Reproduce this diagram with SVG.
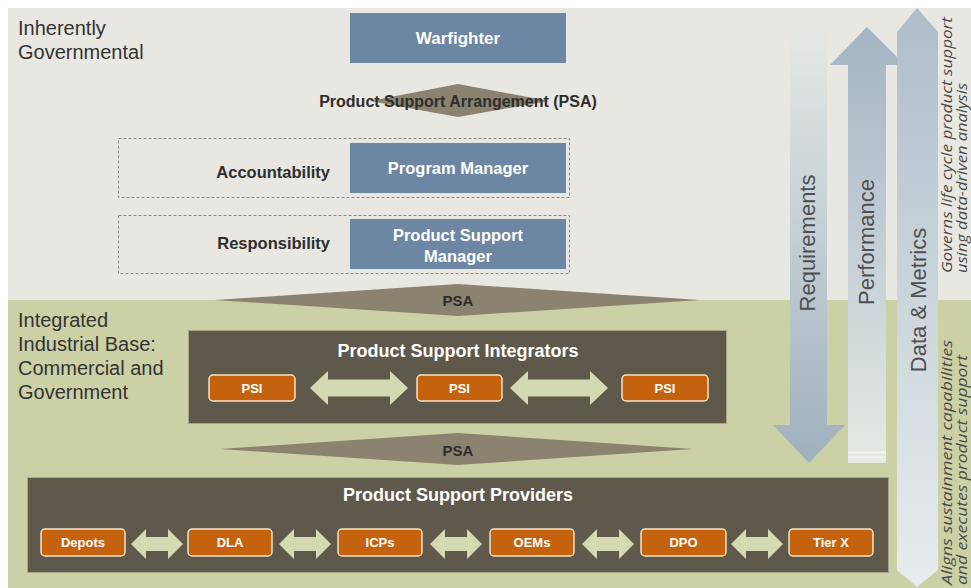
<svg xmlns="http://www.w3.org/2000/svg" width="971" height="588" viewBox="0 0 971 588">
<defs>
<style>
.lbl{font-family:"Liberation Sans",Arial,sans-serif;fill:#333;font-size:20px}
.bl{font-family:"Liberation Sans",Arial,sans-serif;font-weight:bold}
.wt{fill:#fff}
.dk{fill:#2e2e2e}
.blue{fill:#6c86a3}
.dash{fill:none;stroke:#8a8a8a;stroke-width:1;stroke-dasharray:3 2}
.cont{fill:#5f594c;stroke:#a9a58f;stroke-width:1}
.org{fill:#c5620d;stroke:#f4e3c4;stroke-width:1.5}
.dbl{fill:#d3d9b1}
.psa{fill:#8b8370}
.vt{font-family:"Liberation Sans",Arial,sans-serif;font-size:22px;fill:#4f4f4f}
.it{font-family:"Open Sans","Liberation Sans",sans-serif;font-style:italic;font-size:15px;fill:#4a4a4a}
</style>
<linearGradient id="gReq" gradientUnits="userSpaceOnUse" x1="0" y1="28" x2="0" y2="463">
<stop offset="0" stop-color="#e6e8e4"/>
<stop offset="0.45" stop-color="#c5d0d6"/>
<stop offset="1" stop-color="#9fb0bd"/>
</linearGradient>
<linearGradient id="gPerf" gradientUnits="userSpaceOnUse" x1="0" y1="27" x2="0" y2="463">
<stop offset="0" stop-color="#a3b4c2"/>
<stop offset="0.5" stop-color="#c3ced6"/>
<stop offset="1" stop-color="#e6eae4"/>
</linearGradient>
<linearGradient id="gData" gradientUnits="userSpaceOnUse" x1="0" y1="8" x2="0" y2="587">
<stop offset="0" stop-color="#aebdca"/>
<stop offset="0.5" stop-color="#ccd5dc"/>
<stop offset="1" stop-color="#e8ecee"/>
</linearGradient>
<path id="arrPsi" d="M-49,0 L-31,-17 L-31,-8.5 L31,-8.5 L31,-17 L49,0 L31,17 L31,8.5 L-31,8.5 L-31,17 Z"/>
<path id="arrPro" d="M-26,0 L-11,-15 L-11,-7 L11,-7 L11,-15 L26,0 L11,15 L11,7 L-11,7 L-11,15 Z"/>
</defs>

<!-- backgrounds -->
<rect x="8" y="8" width="963" height="292" fill="#e8e7e2"/>
<rect x="8" y="300" width="963" height="288" fill="#cbd1a5"/>

<!-- region labels -->
<text class="lbl" x="18" y="35">Inherently</text>
<text class="lbl" x="18" y="59">Governmental</text>
<text class="lbl" x="18" y="327">Integrated</text>
<text class="lbl" x="18" y="351">Industrial Base:</text>
<text class="lbl" x="18" y="375">Commercial and</text>
<text class="lbl" x="18" y="399">Government</text>

<!-- government nodes -->
<g id="warfighter">
<rect class="blue" x="350" y="13" width="216" height="50"/>
<text class="bl wt" x="458" y="44" font-size="17" text-anchor="middle">Warfighter</text>
</g>
<g id="accountability">
<rect class="dash" x="118.5" y="138.5" width="451" height="59"/>
<text class="bl dk" x="330" y="178" font-size="16.5" text-anchor="end">Accountability</text>
</g>
<g id="program-manager">
<rect class="blue" x="350" y="143" width="216" height="50"/>
<text class="bl wt" x="458" y="174" font-size="16.5" text-anchor="middle">Program Manager</text>
</g>
<g id="responsibility">
<rect class="dash" x="118.5" y="215.5" width="451" height="58"/>
<text class="bl dk" x="330" y="249" font-size="16.5" text-anchor="end">Responsibility</text>
</g>
<g id="product-support-manager">
<rect class="blue" x="350" y="219" width="216" height="50"/>
<text class="bl wt" x="458" y="241" font-size="16.5" text-anchor="middle">Product Support</text>
<text class="bl wt" x="458" y="262" font-size="16.5" text-anchor="middle">Manager</text>
</g>

<!-- integrators -->
<g id="product-support-integrators">
<rect class="cont" x="188.5" y="330.5" width="538" height="93"/>
<text class="bl wt" x="458" y="357" font-size="18" text-anchor="middle">Product Support Integrators</text>
</g>
<g id="psi-1">
<rect class="org" x="209" y="375" width="86" height="26" rx="4"/>
<text class="bl wt" x="252" y="393" font-size="13" text-anchor="middle">PSI</text>
</g>
<g id="psi-2">
<rect class="org" x="417" y="375" width="85" height="26" rx="4"/>
<text class="bl wt" x="459.5" y="393" font-size="13" text-anchor="middle">PSI</text>
</g>
<g id="psi-3">
<rect class="org" x="622" y="375" width="86" height="26" rx="4"/>
<text class="bl wt" x="665" y="393" font-size="13" text-anchor="middle">PSI</text>
</g>

<!-- providers -->
<g id="product-support-providers">
<rect class="cont" x="27.5" y="477.5" width="861" height="95"/>
<text class="bl wt" x="458" y="501" font-size="18" text-anchor="middle">Product Support Providers</text>
</g>
<g id="depots">
<rect class="org" x="41" y="529" width="84" height="27" rx="4"/>
<text class="bl wt" x="83" y="547" font-size="13" text-anchor="middle">Depots</text>
</g>
<g id="dla">
<rect class="org" x="188" y="529" width="84" height="27" rx="4"/>
<text class="bl wt" x="230" y="547" font-size="13" text-anchor="middle">DLA</text>
</g>
<g id="icps">
<rect class="org" x="338" y="529" width="84" height="27" rx="4"/>
<text class="bl wt" x="380" y="547" font-size="13" text-anchor="middle">ICPs</text>
</g>
<g id="oems">
<rect class="org" x="490" y="529" width="84" height="27" rx="4"/>
<text class="bl wt" x="532" y="547" font-size="13" text-anchor="middle">OEMs</text>
</g>
<g id="dpo">
<rect class="org" x="641" y="529" width="85" height="27" rx="4"/>
<text class="bl wt" x="683.5" y="547" font-size="13" text-anchor="middle">DPO</text>
</g>
<g id="tier-x">
<rect class="org" x="789" y="529" width="84" height="27" rx="4"/>
<text class="bl wt" x="831" y="547" font-size="13" text-anchor="middle">Tier X</text>
</g>

<!-- connectors: PSA arrangements and flow arrows -->
<g id="connectors">
<polygon class="psa" points="370,101 458,84 549,101 458,117"/>
<polygon class="psa" points="215,300 458,284 700,300 458,316"/>
<polygon class="psa" points="220,449 458,433 693,449 458,465"/>
<use href="#arrPsi" x="359" y="388" class="dbl"/>
<use href="#arrPsi" x="559" y="388" class="dbl"/>
<use href="#arrPro" x="157" y="544" class="dbl"/>
<use href="#arrPro" x="305" y="544" class="dbl"/>
<use href="#arrPro" x="456" y="544" class="dbl"/>
<use href="#arrPro" x="608" y="544" class="dbl"/>
<use href="#arrPro" x="757" y="544" class="dbl"/>
<g id="requirements">
<path d="M790,28 H827 V425 H845 L809,463 L773,425 H790 Z" fill="url(#gReq)"/>
</g>
<g id="performance">
<path d="M867,27 L905,65 H886 V463 H848 V65 H830 Z" fill="url(#gPerf)"/>
<rect x="848" y="451.5" width="38" height="1.5" fill="#f3f4ee"/>
<rect x="848" y="456.5" width="38" height="1.5" fill="#f3f4ee"/>
</g>
<g id="data-metrics">
<path d="M917,8 L938,32 V570 L917,587 L897,570 V32 Z" fill="url(#gData)"/>
</g>
</g>

<!-- connector labels -->
<text class="bl dk" x="458" y="107" font-size="16" text-anchor="middle">Product Support Arrangement (PSA)</text>
<text class="bl dk" x="458" y="306" font-size="15" text-anchor="middle">PSA</text>
<text class="bl dk" x="458" y="456" font-size="15" text-anchor="middle">PSA</text>

<text class="vt" transform="rotate(-90)" x="-243" y="815" text-anchor="middle">Requirements</text>
<text class="vt" transform="rotate(-90)" x="-242" y="874" text-anchor="middle">Performance</text>
<text class="vt" transform="rotate(-90)" x="-300" y="926" text-anchor="middle">Data &amp; Metrics</text>

<text class="it" transform="rotate(-90)" x="-273" y="952" textLength="256" lengthAdjust="spacingAndGlyphs">Governs life cycle product support</text>
<text class="it" transform="rotate(-90)" x="-273" y="967" font-size="14" textLength="190" lengthAdjust="spacingAndGlyphs">using data-driven analysis</text>
<text class="it" transform="rotate(-90)" x="-585" y="952" textLength="245" lengthAdjust="spacingAndGlyphs">Aligns sustainment capabilities</text>
<text class="it" transform="rotate(-90)" x="-585" y="967" font-size="14" textLength="230" lengthAdjust="spacingAndGlyphs">and executes product support</text>
</svg>
